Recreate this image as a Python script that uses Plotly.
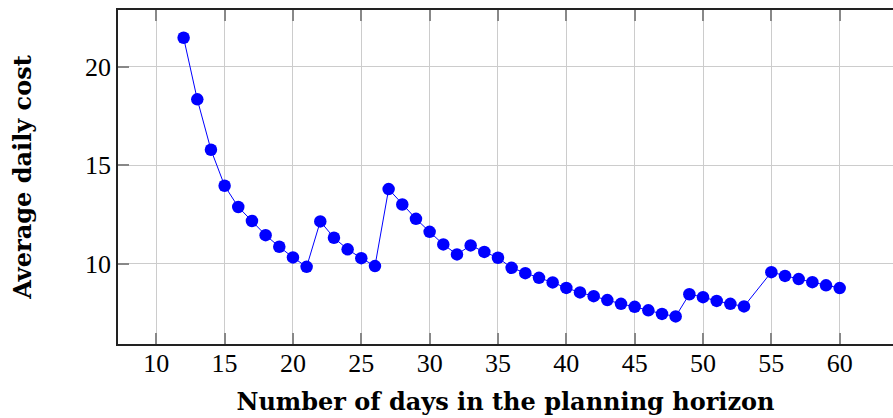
import plotly.graph_objects as go

# Planning horizon length (days) and the resulting average daily cost
days = [12, 13, 14, 15, 16, 17, 18, 19, 20, 21, 22, 23, 24, 25, 26, 27, 28, 29, 30,
        31, 32, 33, 34, 35, 36, 37, 38, 39, 40, 41, 42, 43, 44, 45, 46, 47, 48,
        49, 50, 51, 52, 53, 55, 56, 57, 58, 59, 60]
avg_cost = [21.47, 18.34, 15.78, 13.95, 12.87, 12.16, 11.44, 10.85, 10.31, 9.83,
            12.14, 11.31, 10.72, 10.27, 9.87, 13.78, 13.00, 12.27, 11.61,
            10.97, 10.46, 10.92, 10.59, 10.29, 9.78, 9.51, 9.27, 9.04, 8.76,
            8.53, 8.34, 8.14, 7.95, 7.80, 7.62, 7.44, 7.31,
            8.44, 8.29, 8.10, 7.95, 7.82, 9.56, 9.37, 9.21, 9.05, 8.89, 8.75]

x_ticks = [10, 15, 20, 25, 30, 35, 40, 45, 50, 55, 60]
y_ticks = [10, 15, 20]

TICK_FONT = "Liberation Serif"
TITLE_FONT = "DejaVu Serif"
x_range = [7.2, 63.9]
y_range = [5.91, 22.88]

fig = go.Figure()
fig.add_trace(go.Scatter(
    x=days, y=avg_cost, mode="lines+markers",
    line=dict(color="#0000ff", width=1),
    marker=dict(color="#0000ff", size=12.5),
    showlegend=False, hoverinfo="x+y",
))
# empty trace so the top axis (frame + ticks) is drawn
fig.add_trace(go.Scatter(x=[None], y=[None], xaxis="x2", showlegend=False, hoverinfo="skip"))

fig.update_layout(
    width=893, height=418,
    margin=dict(l=118, r=0, t=10, b=74),
    paper_bgcolor="white", plot_bgcolor="white",
    font=dict(family=TICK_FONT, color="black", size=26),
    xaxis=dict(
        range=x_range, tickvals=x_ticks, ticks="inside", ticklen=11, tickwidth=1.5,
        tickcolor="#888888", showgrid=True, gridcolor="#cccccc", gridwidth=1,
        showline=True, linecolor="#222222", linewidth=1.5, zeroline=False,
        tickfont=dict(family=TICK_FONT, size=26), ticklabelstandoff=-5,
        title=dict(text="<b>Number of days in the planning horizon</b>",
                   font=dict(family=TITLE_FONT, size=24), standoff=16),
    ),
    xaxis2=dict(
        range=x_range, overlaying="x", side="top", tickvals=x_ticks,
        ticks="inside", ticklen=11, tickwidth=1.5, tickcolor="#888888",
        showticklabels=False, showgrid=False, showline=True,
        linecolor="#222222", linewidth=1.5, zeroline=False,
    ),
    yaxis=dict(
        range=y_range, tickvals=y_ticks, ticks="inside", ticklen=11, tickwidth=1.5,
        tickcolor="#888888", showgrid=True, gridcolor="#cccccc", gridwidth=1,
        showline=True, linecolor="#222222", linewidth=1.5, zeroline=False,
        tickfont=dict(family=TICK_FONT, size=26),
        title=dict(text="<b>Average daily cost</b>",
                   font=dict(family=TITLE_FONT, size=24), standoff=47),
    ),
)

fig.write_html("out.html")
